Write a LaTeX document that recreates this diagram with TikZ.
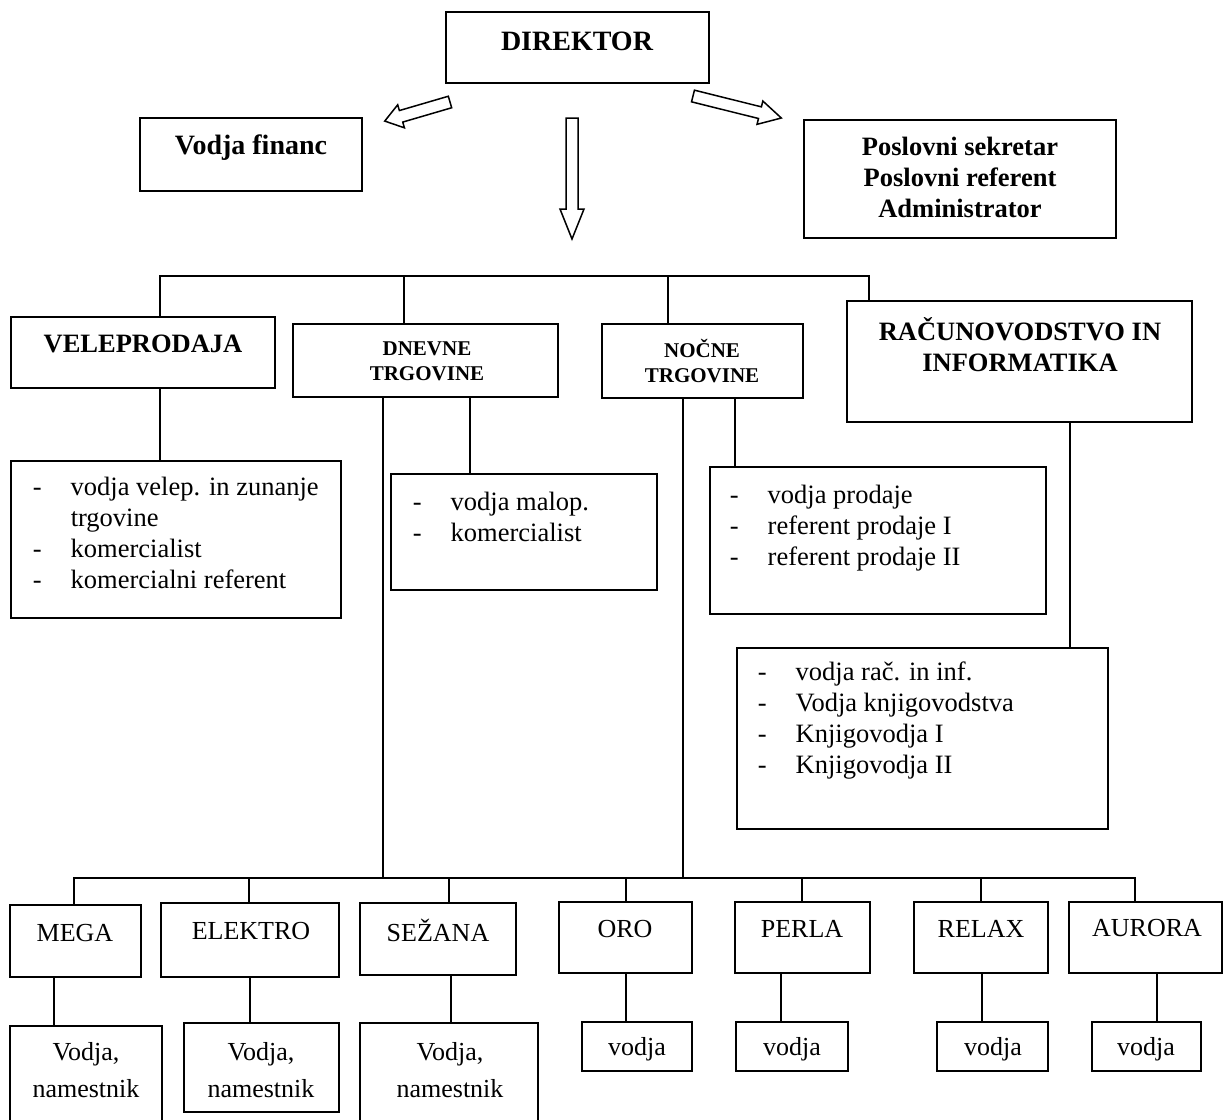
\documentclass[tikz,border=0pt]{standalone}
\usepackage{fontspec}
\setmainfont{Liberation Serif}
\usetikzlibrary{positioning,calc}
\newcommand{\listdash}{\makebox[38pt][l]{-}}
\newcommand{\listindent}{\hspace*{38pt}}

\begin{document}
\begin{tikzpicture}[x=1pt,y=-1pt,line width=1.5pt,
    box/.style 2 args={draw,rectangle,anchor=north west,outer sep=0pt,inner sep=0pt,
      minimum width=#1,minimum height=#2},
    bigb/.style={font=\fontsize{28}{32}\selectfont\bfseries,align=center,inner sep=0pt},
    midb/.style={font=\fontsize{26.5}{31}\selectfont\bfseries,align=center,inner sep=0pt},
    smlb/.style={font=\fontsize{21}{25}\selectfont\bfseries,align=center,inner sep=0pt},
    unit/.style={font=\fontsize{26}{37}\selectfont,align=center,inner sep=0pt},
    list/.style={font=\fontsize{26.5}{31}\selectfont,align=left,inner sep=0pt,anchor=north west},
    pics/blkarrow/.style 2 args={code={
      \draw[line width=1.5pt] (0,-6) -- (#1-#2,-6) -- (#1-#2,-12) -- (#1,0)
        -- (#1-#2,12) -- (#1-#2,6) -- (0,6) -- cycle;}}]
  \fill[white] (0,0) rectangle (1223,1119);
  \useasboundingbox (0,0) rectangle (1223,1119);
  \clip (0,0) rectangle (1223,1119);

  % top level
  \node[box={263}{71}] (dir) at (446,12) {};
  \node[bigb] (dirT) at (577,41) {DIREKTOR};
  \node[box={222}{73}] (fin) at (140,118) {};
  \node[bigb] (finT) at (251,148) {Vodja financ};
  \node[box={312}{118}] (sek) at (804,120) {};
  \node[midb] (sekT) at (960,177) {Poslovni sekretar\\Poslovni referent\\Administrator};
  \pic[rotate=196.3] at (450,102) {blkarrow={68}{17}};
  \pic[rotate=-14] at (693,96) {blkarrow={91}{22}};
  \pic[rotate=-90] at (572,118) {blkarrow={121}{30}};

  % sectors
  \node[box={264}{71}] (vele) at (11,317) {};
  \node[midb] (veleT) at (143,344) {VELEPRODAJA};
  \node[box={265}{73}] (dnevne) at (293,324) {};
  \node[smlb] (dnevneT) at (427,361) {DNEVNE\\TRGOVINE};
  \node[box={201}{74}] (nocne) at (602,324) {};
  \node[smlb] (nocneT) at (702,361) {NOČNE\\TRGOVINE};
  \node[box={345}{121}] (racun) at (847,301) {};
  \node[midb] (racunT) at (1020,345) {RAČUNOVODSTVO IN\\INFORMATIKA};

  % staff lists
  \node[box={330}{157}] (velelist) at (11,461) {};
  \node[list] (velelistT) at (32,476) {\listdash vodja velep. in zunanje\\\listindent trgovine\\
    \listdash komercialist\\\listdash komercialni referent};
  \node[box={266}{116}] (malop) at (391,474) {};
  \node[list] (malopT) at (412,491) {\listdash vodja malop.\\\listdash komercialist};
  \node[box={336}{147}] (prodaje) at (710,467) {};
  \node[list] (prodajeT) at (729,484) {\listdash vodja prodaje\\\listdash referent prodaje I\\
    \listdash referent prodaje II};
  \node[box={371}{181}] (raclist) at (737,648) {};
  \node[list] (raclistT) at (757,661) {\listdash vodja rač. in inf.\\\listdash Vodja knjigovodstva\\
    \listdash Knjigovodja I\\\listdash Knjigovodja II};

  % shops
  \node[box={131}{72}] (mega) at (10,905) {};
  \node[unit] (megaT) at (75,933) {MEGA};
  \node[box={178}{74}] (elektro) at (161,903) {};
  \node[unit] (elektroT) at (251,931) {ELEKTRO};
  \node[box={156}{72}] (sezana) at (360,903) {};
  \node[unit] (sezanaT) at (438,930) {SEŽANA};
  \node[box={133}{71}] (oro) at (559,902) {};
  \node[unit] (oroT) at (625,929) {ORO};
  \node[box={135}{71}] (perla) at (735,902) {};
  \node[unit] (perlaT) at (802,929) {PERLA};
  \node[box={134}{71}] (relax) at (914,902) {};
  \node[unit] (relaxT) at (981,929) {RELAX};
  \node[box={153}{71}] (aurora) at (1069,902) {};
  \node[unit] (auroraT) at (1147,928) {AURORA};

  \node[box={152}{110}] (megav) at (10,1026) {};
  \node[unit] (megavT) at (86,1070) {Vodja,\\namestnik};
  \node[box={155}{89}] (elektrov) at (184,1023) {};
  \node[unit] (elektrovT) at (261,1070) {Vodja,\\namestnik};
  \node[box={178}{110}] (sezanav) at (360,1023) {};
  \node[unit] (sezanavT) at (450,1070) {Vodja,\\namestnik};
  \node[box={110}{49}] (orov) at (582,1022) {};
  \node[unit] (orovT) at (637,1049) {vodja};
  \node[box={112}{49}] (perlav) at (736,1022) {};
  \node[unit] (perlavT) at (792,1049) {vodja};
  \node[box={111}{49}] (relaxv) at (937,1022) {};
  \node[unit] (relaxvT) at (993,1049) {vodja};
  \node[box={109}{49}] (aurorav) at (1092,1022) {};
  \node[unit] (auroravT) at (1146,1049) {vodja};

  % upper connectors
  \coordinate (tb1) at (160,276);
  \coordinate (tb2) at (404,276);
  \coordinate (tb3) at (668,276);
  \coordinate (tb4) at (869,276);
  \draw (tb1 |- vele.north) -- (tb1) -- (tb4) -- (tb4 |- racun.north);
  \draw (tb2) -- (tb2 |- dnevne.north);
  \draw (tb3) -- (tb3 |- nocne.north);
  \draw (tb1 |- vele.south) -- (tb1 |- velelist.north);
  \coordinate (dm) at (470,0);
  \draw (dm |- dnevne.south) -- (dm |- malop.north);
  \coordinate (np) at (735,0);
  \draw (np |- nocne.south) -- (np |- prodaje.north);
  \coordinate (rr) at (1070,0);
  \draw (rr |- racun.south) -- (rr |- raclist.north);

  % lower connectors
  \coordinate (bd) at (383,878);
  \coordinate (bn) at (683,878);
  \draw (bd |- dnevne.south) -- (bd);
  \draw (bn |- nocne.south) -- (bn);
  \coordinate (bb1) at (74,878);
  \coordinate (bb7) at (1135,878);
  \draw (bb1 |- mega.north) -- (bb1) -- (bb7) -- (bb7 |- aurora.north);
  \foreach \px/\ua in {249/elektro,449/sezana,626/oro,802/perla,981/relax}{
    \coordinate (bx) at (\px,878);
    \draw (bx) -- (bx |- \ua.north);}
  \foreach \px/\ua/\lb in {54/mega/megav,250/elektro/elektrov,451/sezana/sezanav,
      626/oro/orov,781/perla/perlav,982/relax/relaxv,1157/aurora/aurorav}{
    \coordinate (lx) at (\px,0);
    \draw (lx |- \ua.south) -- (lx |- \lb.north);}
\end{tikzpicture}
\end{document}
